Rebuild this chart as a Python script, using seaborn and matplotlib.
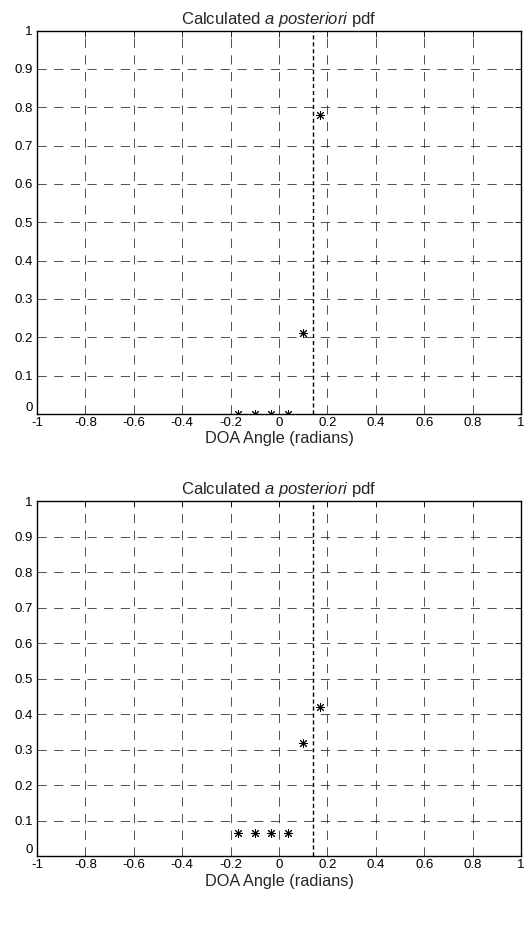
import numpy as np
import pandas as pd
import seaborn as sns
import matplotlib.pyplot as plt

# candidate DOA angles (radians) and posterior values
angles = [-0.17, -0.10, -0.035, 0.035, 0.10, 0.17]
pdf_top = [0.0, 0.0, 0.0, 0.0, 0.21, 0.78]
pdf_bottom = [0.065, 0.065, 0.065, 0.065, 0.32, 0.42]
true_doa = 0.14

x_ticks = [-1, -0.8, -0.6, -0.4, -0.2, 0, 0.2, 0.4, 0.6, 0.8, 1]
x_labels = ['-1', '-0.8', '-0.6', '-0.4', '-0.2', '0', '0.2', '0.4', '0.6', '0.8', '1']
y_ticks = [0, 0.1, 0.2, 0.3, 0.4, 0.5, 0.6, 0.7, 0.8, 0.9, 1]
y_labels = ['0', '0.1', '0.2', '0.3', '0.4', '0.5', '0.6', '0.7', '0.8', '0.9', '1']

sns.set_style("white")
plt.rcParams['font.family'] = ['Liberation Sans', 'DejaVu Sans']
plt.rcParams['mathtext.fontset'] = 'custom'
plt.rcParams['mathtext.rm'] = 'Liberation Sans'
plt.rcParams['mathtext.it'] = 'Liberation Sans:italic'

fig = plt.figure(figsize=(5.29, 9.26), dpi=100)
ax1 = fig.add_axes([0.070, 0.553, 0.915, 0.414])
ax2 = fig.add_axes([0.070, 0.0756, 0.915, 0.383])

for ax, vals in [(ax1, pdf_top), (ax2, pdf_bottom)]:
    df = pd.DataFrame({'angle': angles, 'pdf': vals})
    ax.axvline(true_doa, color='k', ls=(0, (3, 2)), lw=1.0, zorder=3)
    sns.scatterplot(data=df, x='angle', y='pdf', marker=(8, 2, 0), color='k',
                    s=34, linewidth=0.7, ax=ax, zorder=4, legend=False)
    ax.set_xlim(-1, 1)
    ax.set_ylim(0, 1)
    ax.set_xticks(x_ticks)
    ax.set_xticklabels(x_labels)
    ax.set_yticks(y_ticks)
    ax.set_yticklabels(y_labels)
    # keep the "0" clear of the "-1" underneath, like the original
    ax.get_yticklabels()[0].set_va('bottom')
    ax.grid(True, color='#333333', ls=(0, (11, 9)), lw=0.6)
    ax.tick_params(direction='in', length=4, width=0.6, labelsize=9.5,
                   top=True, right=True, colors='k')
    ax.tick_params(axis='x', pad=2)
    ax.tick_params(axis='y', pad=3)
    for sp in ax.spines.values():
        sp.set_color('k')
        sp.set_linewidth(1.0)
    ax.set_title(r'Calculated $\mathit{a\ posteriori}$ pdf', fontsize=12, pad=5)
    ax.set_xlabel('DOA Angle (radians)', fontsize=11.7, labelpad=2)
    ax.set_ylabel('')

fig.savefig('out.png', dpi=100, facecolor='white')
